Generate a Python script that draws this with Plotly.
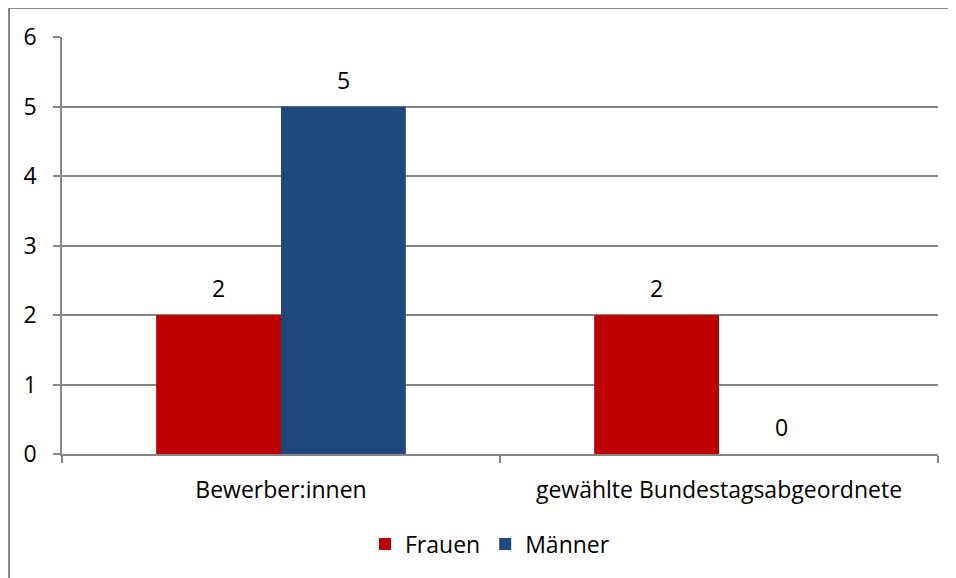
import plotly.graph_objects as go

categories = ["Bewerber:innen", "gewählte Bundestagsabgeordnete"]
frauen = [2, 2]
maenner = [5, 0]
series_names = ["Frauen", "Männer"]
colors = ["#C00000", "#1F497D"]
y_ticks = [0, 1, 2, 3, 4, 5, 6]

W, H = 956, 578
L, R, T, B = 54, 26, 29, 132
pw, ph = W - L - R, H - T - B
FONT = "Open Sans"
FS = 23
bargap = 0.43

fig = go.Figure()
for name, vals, col in zip(series_names, [frauen, maenner], colors):
    fig.add_trace(go.Bar(x=categories, y=vals, name=name, marker=dict(color=col, line=dict(width=0))))

bar_px = pw / len(categories) * (1 - bargap) / 2
annotations = []
for j, vals in enumerate([frauen, maenner]):
    for c, v in zip(categories, vals):
        annotations.append(dict(x=c, y=v, xref="x", yref="y", text=str(v), showarrow=False,
                                xshift=(j - 0.5) * bar_px, yshift=27, yanchor="middle",
                                font=dict(family=FONT, size=FS, color="#000000")))


def px_x(p):
    return (p - L) / pw


def px_y(p):
    return (T + ph - p) / ph


fig.update_layout(
    width=W, height=H,
    margin=dict(l=L, r=R, t=T, b=B),
    paper_bgcolor="white", plot_bgcolor="white",
    barmode="group", bargap=bargap, bargroupgap=0,
    font=dict(family=FONT, size=FS, color="#000000"),
    showlegend=True,
    legend=dict(orientation="h", x=px_x(482), xanchor="center", y=px_y(536),
                yanchor="middle", font=dict(family=FONT, size=FS), itemwidth=30,
                traceorder="normal"),
    annotations=annotations,
    shapes=[dict(type="rect", xref="paper", yref="paper",
                 x0=px_x(1), x1=px_x(W - 1), y0=px_y(H - 1), y1=px_y(0),
                 line=dict(color="#898989", width=2), fillcolor="rgba(0,0,0,0)", layer="below")],
)
fig.update_xaxes(type="category", tickson="boundaries", ticks="outside", ticklen=7,
                 tickcolor="#868686", tickwidth=1.5, showline=True, linecolor="#868686",
                 linewidth=1.5, showgrid=False, tickfont=dict(family=FONT, size=FS),
                 ticklabelstandoff=15)
fig.update_yaxes(range=[0, 6], tickvals=y_ticks, ticks="outside", ticklen=7,
                 tickcolor="#868686", tickwidth=1.5, showline=True, linecolor="#868686",
                 linewidth=1.5, showgrid=True, gridcolor="#868686", gridwidth=1.5,
                 zeroline=False, tickfont=dict(family=FONT, size=FS), ticklabelstandoff=12)

fig.write_html("out.html")
